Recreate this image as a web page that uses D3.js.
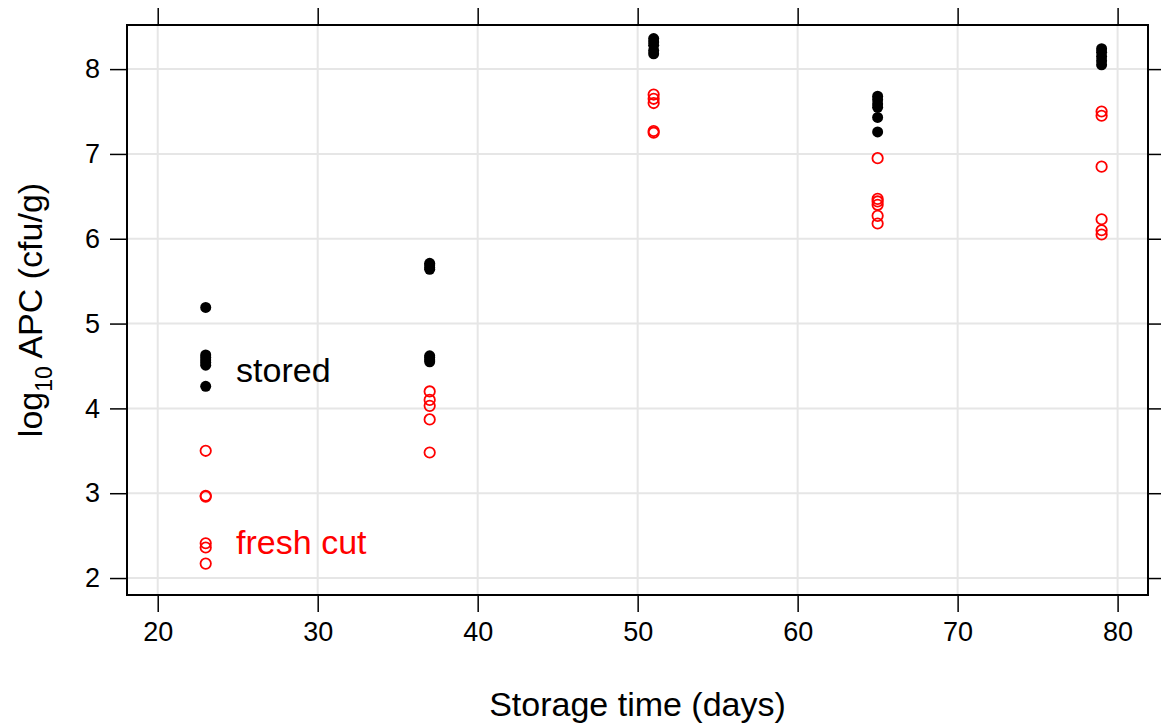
<!DOCTYPE html>
<meta charset="utf-8">
<script src="https://d3js.org/d3.v7.min.js"></script>
<style>
  body { margin: 0; background: #fff; }
  text { font-family: "Liberation Sans", Arial, sans-serif; }
</style>
<div id="chart"></div>
<script>
// storage days
var days = [23, 37, 51, 65, 79];

// log10 APC, stored samples (one list per day)
var storedApc = [
  [5.19, 4.63, 4.60, 4.57, 4.54, 4.51, 4.26],
  [5.71, 5.69, 5.66, 5.64, 4.62, 4.60, 4.57, 4.55],
  [8.36, 8.32, 8.28, 8.22, 8.18],
  [7.68, 7.64, 7.59, 7.55, 7.43, 7.26],
  [8.58, 8.24, 8.20, 8.15, 8.10, 8.05]
];

// log10 APC, fresh cut samples
var freshApc = [
  [3.50, 2.97, 2.96, 2.41, 2.36, 2.17],
  [4.20, 4.10, 4.03, 3.87, 3.48],
  [7.70, 7.65, 7.60, 7.27, 7.25],
  [6.95, 6.47, 6.44, 6.40, 6.27, 6.18],
  [7.50, 7.45, 6.85, 6.23, 6.10, 6.05]
];

var xTicks = [20, 30, 40, 50, 60, 70, 80];
var yTicks = [2, 3, 4, 5, 6, 7, 8];

var W = 1161, H = 724;
var m = {left: 127, right: 13, top: 25, bottom: 129};

var svg = d3.select("#chart").append("svg")
  .attr("width", W).attr("height", H);

var x = d3.scaleLinear().domain([18.08, 81.9]).range([m.left, W - m.right]);
var y = d3.scaleLinear().domain([1.80, 8.52]).range([H - m.bottom, m.top]);

// gridlines
svg.append("g").selectAll("line").data(xTicks).join("line")
  .attr("x1", d => x(d)).attr("x2", d => x(d))
  .attr("y1", m.top).attr("y2", H - m.bottom)
  .attr("stroke", "#e6e6e6").attr("stroke-width", 2);
svg.append("g").selectAll("line").data(yTicks).join("line")
  .attr("y1", d => y(d)).attr("y2", d => y(d))
  .attr("x1", m.left).attr("x2", W - m.right)
  .attr("stroke", "#e6e6e6").attr("stroke-width", 2);

// axes, ticks on all four sides
var tl = 17;
var axB = svg.append("g").attr("transform", "translate(0," + (H - m.bottom) + ")")
  .call(d3.axisBottom(x).tickValues(xTicks).tickSize(tl).tickPadding(10));
var axT = svg.append("g").attr("transform", "translate(0," + m.top + ")")
  .call(d3.axisTop(x).tickValues(xTicks).tickSize(tl).tickFormat(""));
var axL = svg.append("g").attr("transform", "translate(" + m.left + ",0)")
  .call(d3.axisLeft(y).tickValues(yTicks).tickSize(tl).tickPadding(10).tickFormat(d3.format("d")));
var axR = svg.append("g").attr("transform", "translate(" + (W - m.right) + ",0)")
  .call(d3.axisRight(y).tickValues(yTicks).tickSize(tl).tickFormat(""));

[axB, axT, axL, axR].forEach(function(a) {
  a.select(".domain").remove();
  a.selectAll("line").attr("stroke", "#000").attr("stroke-width", 1.5);
  a.selectAll("text").attr("font-size", 27).attr("fill", "#000")
    .style("font-family", "Liberation Sans, Arial, sans-serif");
});

svg.append("rect")
  .attr("x", m.left).attr("y", m.top)
  .attr("width", W - m.right - m.left).attr("height", H - m.bottom - m.top)
  .attr("fill", "none").attr("stroke", "#000").attr("stroke-width", 2);

svg.append("clipPath").attr("id", "panel").append("rect")
  .attr("x", m.left).attr("y", m.top)
  .attr("width", W - m.right - m.left).attr("height", H - m.bottom - m.top);

var pts = svg.append("g").attr("clip-path", "url(#panel)");

var stored = [], fresh = [];
days.forEach(function(d, i) {
  storedApc[i].forEach(function(v) { stored.push({day: d, v: v}); });
  freshApc[i].forEach(function(v) { fresh.push({day: d, v: v}); });
});

pts.selectAll("circle.fresh").data(fresh).join("circle")
  .attr("class", "fresh")
  .attr("cx", d => x(d.day)).attr("cy", d => y(d.v)).attr("r", 5.2)
  .attr("fill", "none").attr("stroke", "#ff0000").attr("stroke-width", 1.8);

pts.selectAll("circle.stored").data(stored).join("circle")
  .attr("class", "stored")
  .attr("cx", d => x(d.day)).attr("cy", d => y(d.v)).attr("r", 5.5)
  .attr("fill", "#000");

// group labels
svg.append("text").attr("x", x(24.9)).attr("y", y(4.45)).attr("dy", "0.35em")
  .attr("font-size", 34).attr("fill", "#000").text("stored");
svg.append("text").attr("x", x(24.9)).attr("y", y(2.42)).attr("dy", "0.35em")
  .attr("font-size", 34).attr("fill", "#ff0000").text("fresh cut");

// axis titles
svg.append("text").attr("x", (m.left + W - m.right) / 2).attr("y", 704)
  .attr("text-anchor", "middle").attr("dy", "0.35em")
  .attr("font-size", 34).text("Storage time (days)");

var yt = svg.append("text")
  .attr("transform", "translate(30," + ((m.top + H - m.bottom) / 2) + ") rotate(-90)")
  .attr("text-anchor", "middle").attr("dy", "0.35em").attr("font-size", 34);
yt.append("tspan").text("log");
yt.append("tspan").attr("font-size", 23).attr("dy", "0.45em").text("10");
yt.append("tspan").attr("dy", "-0.3em").text(" APC (cfu/g)");
</script>
